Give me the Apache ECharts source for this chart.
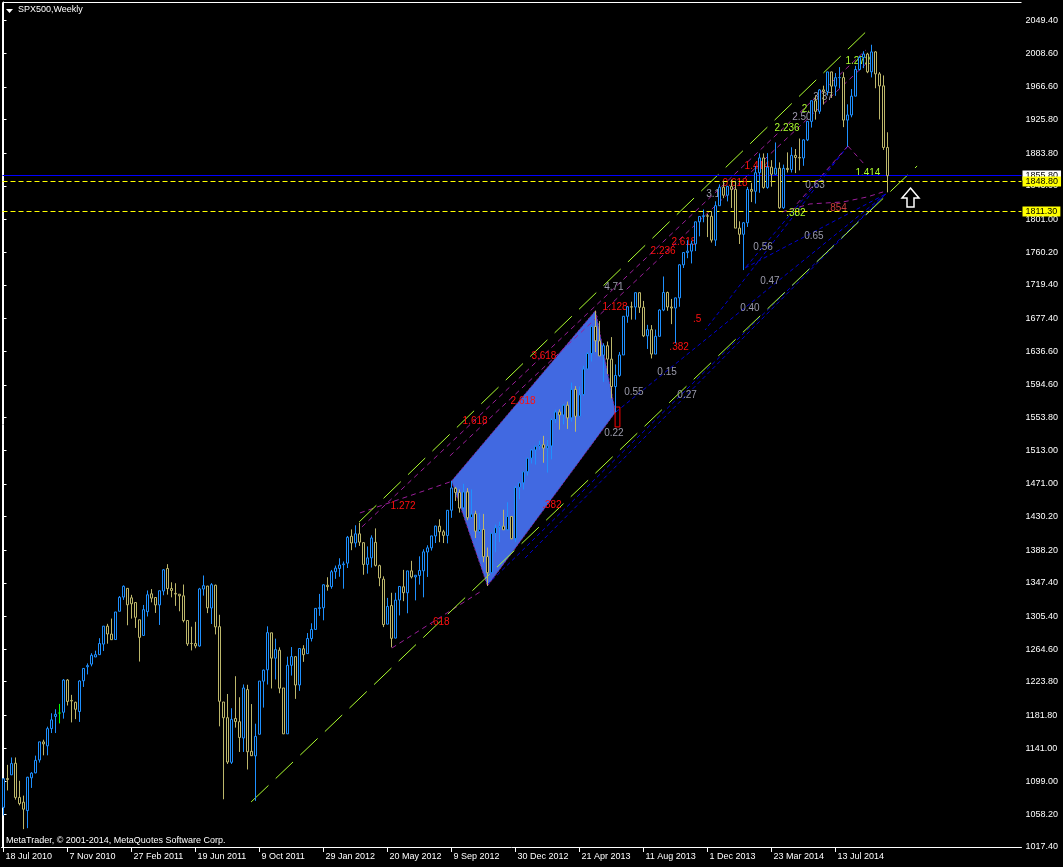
<!DOCTYPE html>
<html><head><meta charset="utf-8">
<script src="https://cdn.jsdelivr.net/npm/echarts@6/dist/echarts.min.js"></script>
<style>html,body{margin:0;padding:0;background:#000;}#c{width:1063px;height:867px;}</style>
</head><body><div id="c"></div>
<script>
const chartTitle = 'SPX500,Weekly';
const copyright = 'MetaTrader, \u00a9 2001-2014, MetaQuotes Software Corp.';
const barSlots = 255;
const xTickLabels = ['18 Jul 2010','7 Nov 2010','27 Feb 2011','19 Jun 2011','9 Oct 2011','29 Jan 2012','20 May 2012','9 Sep 2012','30 Dec 2012','21 Apr 2013','11 Aug 2013','1 Dec 2013','23 Mar 2014','13 Jul 2014'];
const yTickLabels = ['2049.40','2008.60','1966.60','1925.80','1883.80','1843.00','1801.00','1760.20','1719.40','1677.40','1636.60','1594.60','1553.80','1513.00','1471.00','1430.20','1388.20','1347.40','1305.40','1264.60','1223.80','1181.80','1141.00','1099.00','1058.20','1017.40'];

const open = [
1066.9,1102.9,1107.5,1122.0,1079.3,1073.4,1062.9,1103.8,1110.0,1126.1,
1148.6,1143.7,1165.3,1180.5,1184.7,1185.7,1226.0,1200.4,1198.1,1186.6,
1225.0,1242.5,1245.8,1254.7,
1257.6,1270.8,1293.2,1283.3,1276.5,1311.8,1329.5,1340.4,1328.6,1322.7,
1301.2,1281.6,1311.3,1333.6,1329.0,1319.7,1337.1,1365.2,1340.2,1334.1,
1333.1,1331.1,1300.3,1271.6,1271.5,1268.4,1339.6,1343.3,1315.9,1344.3,
1292.6,1198.5,1178.9,1123.2,1177.9,1173.9,1153.5,1214.0,1136.9,1131.2,
1158.2,1224.5,1238.7,1284.9,1253.2,1263.2,1216.0,1158.7,1244.3,1255.1,
1219.7,1265.0,
1258.9,1277.8,1289.1,1315.3,1316.2,1344.3,1342.6,1361.2,1365.2,1370.0,
1371.9,1405.5,1397.1,1408.5,1397.5,1370.3,1378.5,1397.9,1368.8,1351.9,
1295.7,1318.9,1278.3,1325.9,1342.4,1334.9,1362.3,1354.7,1356.5,1362.3,
1385.8,1391.0,1405.9,1418.1,1411.1,1406.5,1438.0,1465.4,1460.1,1440.9,
1460.9,1428.8,1433.7,1411.0,1414.0,1380.1,1359.9,1409.0,1416.3,1418.1,
1413.5,1430.2,
1402.4,1466.5,1472.1,1485.98,1502.96,1513.2,1517.9,1519.8,1515.6,1518.2,
1551.2,1560.7,1556.9,1569.2,1553.3,1588.9,1555.3,1582.3,1614.4,1633.7,
1667.5,1649.6,1631.7,1643.4,1626.7,1592.4,1606.3,1631.9,1680.2,1692.1,
1691.7,1709.7,1691.4,1655.8,1663.5,1633.0,1655.2,1688.0,1709.9,1691.8,
1690.5,1703.2,1744.5,1759.8,1761.6,1770.6,1798.2,1804.8,1805.8,1805.1,
1775.3,1818.3,
1841.4,1831.4,1842.4,1838.7,1790.3,1782.6,1797.0,1838.6,1836.3,1859.5,
1878.0,1841.1,1866.5,1857.6,1865.1,1815.7,1864.9,1863.4,1881.1,1878.5,
1877.9,1900.5,1923.6,1949.4,1936.2,1962.9,1961.0,1985.4,1967.6,1978.2,
1978.3,1925.2,1931.6,1955.1,1988.4,2003.4,2007.7,1985.5,2010.4,1982.9,
1968.0,1891.0
];
const high = [
1103.0,1120.0,1129.2,1129.2,1100.1,1081.6,1105.1,1110.9,1131.5,1148.9,
1151.4,1167.7,1184.4,1189.4,1196.1,1227.1,1227.1,1207.4,1198.9,1225.6,
1240.4,1246.7,1259.4,1262.6,
1278.2,1293.2,1296.1,1302.7,1311.0,1330.8,1344.1,1340.4,1332.3,1322.7,
1301.2,1319.7,1337.8,1339.5,1329.0,1337.5,1364.6,1370.6,1348.0,1346.8,
1333.1,1345.2,1300.4,1292.5,1298.6,1341.0,1356.5,1343.3,1347.0,1345.0,
1307.4,1198.5,1208.5,1190.7,1230.7,1204.4,1220.4,1220.0,1195.9,1171.4,
1224.6,1239.0,1293.0,1284.9,1277.6,1266.7,1216.0,1255.1,1267.1,1255.2,
1265.4,1269.4,
1284.6,1296.8,1315.5,1333.5,1345.3,1354.3,1363.4,1368.9,1378.0,1374.0,
1405.9,1414.0,1419.2,1422.4,1397.5,1392.8,1406.6,1415.3,1370.0,1355.4,
1328.5,1334.9,1334.9,1343.3,1363.5,1362.2,1374.8,1356.8,1380.4,1389.2,
1394.2,1405.9,1418.7,1426.7,1413.5,1438.0,1474.5,1467.1,1463.8,1470.96,
1465.6,1464.0,1437.3,1434.3,1433.4,1391.4,1409.2,1420.0,1423.7,1438.6,
1448.0,1430.2,
1467.9,1472.3,1485.98,1503.3,1514.4,1518.3,1524.7,1530.9,1525.8,1552.5,
1563.6,1564.0,1570.3,1573.7,1597.4,1593.0,1592.6,1618.5,1635.0,1667.5,
1687.2,1674.2,1646.5,1648.7,1654.2,1620.1,1635.5,1680.2,1693.1,1698.4,
1709.7,1709.7,1699.4,1669.5,1669.2,1663.6,1689.0,1729.9,1711.0,1701.9,
1703.4,1745.3,1759.8,1775.2,1774.5,1798.2,1804.8,1813.6,1808.0,1811.5,
1823.8,1844.9,
1849.4,1843.2,1850.8,1849.3,1798.8,1798.0,1841.7,1846.8,1867.9,1883.6,
1883.6,1883.97,1875.2,1897.3,1872.4,1869.6,1884.9,1891.3,1889.1,1902.2,
1901.3,1924.0,1949.4,1955.6,1963.9,1968.2,1985.6,1985.6,1983.9,1991.4,
1984.9,1944.9,1964.0,1993.0,2005.0,2011.2,2009.3,2019.3,2011.2,1985.2,
1981.0,1910.0
];
const low = [
1056.9,1088.0,1107.5,1076.6,1069.4,1039.7,1040.9,1091.2,1109.4,1122.8,
1131.9,1131.9,1159.7,1159.7,1171.7,1177.7,1194.1,1173.0,1177.1,1173.6,
1217.3,1232.9,1243.0,1254.7,
1257.6,1262.2,1271.3,1275.9,1276.5,1311.7,1326.0,1294.3,1302.6,1291.0,
1249.0,1281.6,1305.3,1322.9,1309.7,1294.7,1331.8,1332.6,1329.2,1318.5,
1311.8,1297.9,1268.5,1262.9,1265.6,1267.6,1331.3,1309.5,1295.9,1282.9,
1168.1,1077.0,1121.1,1121.1,1166.5,1136.1,1136.1,1114.2,1131.1,1075.0,
1158.2,1191.5,1220.3,1215.4,1226.6,1209.4,1158.7,1158.7,1231.5,1202.4,
1212.4,1248.6,
1258.9,1274.1,1289.1,1306.1,1300.5,1337.5,1340.0,1352.3,1354.9,1340.0,
1365.8,1388.1,1391.6,1393.4,1357.4,1358.8,1366.4,1367.7,1343.1,1292.0,
1295.7,1266.7,1277.9,1306.6,1324.4,1309.3,1352.8,1325.4,1345.1,1329.2,
1354.7,1387.6,1397.0,1398.0,1397.0,1396.6,1428.5,1449.6,1435.0,1439.0,
1425.5,1427.5,1403.3,1410.0,1373.0,1343.4,1359.9,1385.4,1398.1,1413.5,
1413.5,1401.6,
1398.1,1451.6,1463.8,1481.2,1496.3,1495.0,1513.6,1497.3,1485.0,1501.5,
1547.0,1538.6,1545.1,1539.5,1548.6,1536.0,1555.3,1581.3,1614.4,1623.7,
1635.5,1630.7,1598.2,1608.1,1577.7,1560.3,1604.6,1631.9,1672.1,1676.0,
1676.0,1684.4,1654.2,1639.4,1627.5,1633.0,1655.2,1686.6,1687.1,1670.4,
1646.5,1692.1,1740.5,1752.7,1746.2,1761.6,1780.0,1797.6,1779.1,1772.3,
1768.0,1818.3,
1827.7,1823.7,1815.5,1790.3,1770.5,1737.9,1791.8,1822.8,1820.9,1834.4,
1839.6,1839.5,1842.1,1857.6,1814.4,1814.4,1859.7,1859.8,1859.0,1862.4,
1868.1,1899.0,1915.9,1925.8,1933.0,1944.7,1955.9,1952.9,1955.5,1965.1,
1916.4,1892.0,1928.7,1955.1,1987.2,1990.1,1983.8,1978.5,1965.0,1926.0,
1888.0,1835.0
];
const close = [
1102.7,1101.6,1121.6,1079.3,1071.7,1064.6,1104.5,1109.6,1125.6,1148.7,
1146.2,1165.2,1176.2,1183.1,1184.7,1225.9,1199.2,1199.7,1189.4,1224.7,
1240.4,1243.9,1256.8,1257.6,
1271.5,1293.2,1283.4,1276.3,1310.9,1329.2,1343.0,1319.9,1321.2,1304.3,
1279.2,1313.8,1332.4,1328.2,1319.7,1337.4,1363.6,1340.2,1337.8,1333.3,
1331.1,1300.2,1271.0,1271.5,1268.5,1339.7,1343.8,1316.1,1345.0,1292.3,
1199.4,1178.8,1123.5,1176.8,1174.0,1154.2,1216.0,1136.4,1131.4,1155.5,
1224.6,1238.3,1285.1,1253.2,1263.9,1215.7,1158.7,1244.3,1255.2,1219.7,
1265.3,1257.6,
1277.8,1289.1,1315.4,1316.3,1344.9,1342.6,1361.2,1365.7,1369.6,1370.9,
1404.2,1397.1,1408.5,1398.1,1370.3,1378.5,1403.4,1369.1,1353.4,1295.2,
1317.8,1278.0,1325.7,1342.8,1335.0,1362.2,1354.7,1356.8,1362.7,1386.0,
1391.0,1405.9,1418.2,1411.1,1406.6,1437.9,1465.8,1460.2,1440.7,1460.9,
1428.6,1433.2,1411.9,1414.2,1379.9,1359.9,1409.2,1416.2,1418.1,1413.6,
1430.2,1402.4,
1466.5,1472.1,1485.98,1503.0,1513.2,1517.9,1519.8,1515.6,1518.2,1551.2,
1560.7,1556.9,1569.2,1553.3,1588.9,1555.3,1582.2,1614.4,1633.7,1667.5,
1649.6,1630.7,1643.4,1626.7,1592.4,1606.3,1631.9,1680.2,1692.1,1691.7,
1709.7,1691.4,1655.8,1663.5,1633.0,1655.2,1688.0,1709.9,1691.8,1690.5,
1703.2,1744.5,1759.8,1761.6,1770.6,1798.2,1804.8,1805.8,1805.1,1775.3,
1818.3,1841.4,
1831.4,1842.4,1838.7,1790.3,1782.6,1797.0,1838.6,1836.3,1859.5,1878.0,
1841.1,1866.5,1857.6,1865.1,1815.7,1864.9,1863.4,1881.1,1878.5,1877.9,
1900.5,1923.6,1949.4,1936.2,1962.9,1961.0,1985.4,1967.6,1978.2,1978.3,
1925.2,1931.6,1955.1,1988.4,2003.4,2007.7,1985.5,2010.4,1982.9,1967.9,
1891.0,1855.8
];

// horizontal price levels
const bidPrice = 1855.80;
const dashedLevels = [1848.80, 1811.30];

// drawn objects, in [bar index, price] space
const channelLines = [ [[61.9,1073.6],[228.4,1867.9]], [[88.9,1423.3],[216.6,2040.3]] ];
const purpleLines = [
  [[89.1,1434.6],[111.6,1473.3]],
  [[97.1,1265.9],[119.9,1338.4]],
  [[89.6,1417.1],[215.6,2012.8]],
  [[111.6,1505.8],[216.1,1997.8]],
  [[211.1,1892.9],[215.6,1867.9]],
  [[211.1,1892.9],[197.9,1818.0]],
  [[194.6,1810.5],[201.6,1820.5],[209.9,1823.0],[215.9,1829.2],[219.9,1835.5]]
];
const blueLines = [
  [[120.9,1344.6],[220.6,1833.0]],
  [[153.1,1560.7],[220.6,1833.0]],
  [[130.4,1378.4],[220.6,1833.0]],
  [[211.1,1892.9],[185.4,1740.5]],
  [[211.1,1892.9],[175.4,1663.1]],
  [[185.4,1740.5],[220.6,1833.0]]
];
const patternPolygon = [[112,1474.5],[148,1687.5],[153,1560.3],[121,1343.4]];
const markBox = [[152.9,1566.9],[154.1,1542.0]];
const arrowPoint = [226.75,1828.5];

const redLabels = [
  ['1.272',99.9,1443.3],['1.618',117.9,1549.5],['2.618',129.9,1574.4],['3.618',135.1,1630.6],
  ['1.128',152.9,1691.8],['2.236',164.9,1761.8],['2.618',170.1,1773.0],['.5',173.4,1676.8],
  ['.382',168.9,1641.9],['.382',137.1,1444.6],['.618',109.1,1298.4],['1.414',188.4,1867.9],
  ['0.618',182.9,1846.7]
];
const darkRedLabels = [['.854',208.4,1815.5]];
const grayLabels = [
  ['4.71',152.6,1716.8],['0.22',152.6,1534.5],['0.55',157.6,1585.7],['0.15',165.9,1610.7],
  ['0.27',170.9,1582.0],['0.40',186.6,1690.6],['0.47',191.6,1724.3],['0.56',189.9,1766.8],
  ['0.65',202.6,1780.5],['0.63',202.9,1844.2],['2.50',199.6,1929.1],['3.37',204.9,1954.1],
  ['3.1',177.4,1833.0]
];
const limeLabels = [
  ['1.272',213.6,1999.1],['2.',200.6,1939.1],['2.236',195.9,1915.4],['.382',198.1,1809.2],['1.414',216.1,1859.2]
];

const FONT = '"Liberation Sans", Arial, sans-serif';
const chart = echarts.init(document.getElementById('c'), null, {renderer:'canvas'});
const categories = Array.from({length: barSlots}, (_, k) => String(k));
const candleData = open.map((o, k) => [o, close[k], low[k], high[k]]);
const yTickValues = yTickLabels.map(Number);
const showTick = (idx) => idx % 16 === 0 && idx / 16 < xTickLabels.length;

function polySeries(list, color, dash, z) {
  return {
    type: 'custom', xAxisIndex: 1, yAxisIndex: 0, z: z, silent: true,
    data: list.map((_, k) => [k]),
    renderItem: (params, api) => {
      const pts = list[params.dataIndex].map(p => api.coord(p));
      return { type: 'polyline', shape: { points: pts },
        style: { stroke: color, lineWidth: 1, lineDash: dash, fill: null } };
    }
  };
}
function textSeries(list, color) {
  return {
    type: 'custom', xAxisIndex: 1, yAxisIndex: 0, z: 2, silent: true,
    data: list.map(d => [d[1], d[2]]),
    renderItem: (params, api) => {
      const pt = api.coord([api.value(0), api.value(1)]);
      return { type: 'text', x: pt[0], y: pt[1],
        style: { text: list[params.dataIndex][0], fill: color, font: '10px ' + FONT,
          align: 'center', verticalAlign: 'middle' } };
    }
  };
}

const levelValues = [bidPrice].concat(dashedLevels);
const levelStyle = (k) => k === 0
  ? { stroke: '#0000FF', dash: null, bg: '#FFFFFF' }
  : { stroke: '#FFFF00', dash: [5, 3], bg: '#FFFF00' };

const option = {
  backgroundColor: '#000',
  animation: false,
  grid: { left: 1.5, right: 41.5, top: 2, bottom: 20, show: false },
  xAxis: [{
    type: 'category', data: categories, boundaryGap: true,
    axisLine: { show: true, lineStyle: { color: '#fff' } },
    axisTick: { show: true, alignWithLabel: true, interval: showTick, length: 5, lineStyle: { color: '#fff' } },
    axisLabel: { show: true, interval: showTick, formatter: (v, idx) => xTickLabels[idx / 16] || '',
      color: '#fff', fontSize: 9, fontFamily: FONT, align: 'left', margin: 5, padding: [0, 0, 0, 2] },
    splitLine: { show: false }
  }, {
    type: 'value', min: -0.5, max: barSlots - 0.5, show: false
  }],
  yAxis: [{
    type: 'value', position: 'right', min: 1017.4, max: 2072.7, scale: true,
    axisLine: { show: true, lineStyle: { color: '#fff' } },
    axisTick: { show: true, length: 3, customValues: yTickValues, lineStyle: { color: '#fff' } },
    axisLabel: { show: true, customValues: yTickValues, formatter: v => Number(v).toFixed(2),
      color: '#fff', fontSize: 9, fontFamily: FONT, margin: 4 },
    splitLine: { show: false }
  }],
  graphic: [
    { type: 'polyline', shape: { points: [[2.5, 847], [2.5, 2.5], [1021.5, 2.5]] }, style: { stroke: '#fff', lineWidth: 1, fill: null } },
    { type: 'polygon', shape: { points: [[6, 9], [13, 9], [9.5, 13]] }, style: { fill: '#fff' } },
    { type: 'text', left: 18, top: 5, style: { text: chartTitle, fill: '#fff', font: '9px ' + FONT } },
    { type: 'text', left: 6, top: 836, style: { text: copyright, fill: '#fff', font: '9px ' + FONT } }
  ],
  series: [
    {
      type: 'custom', xAxisIndex: 1, yAxisIndex: 0, z: 1, silent: true, data: [[0]],
      renderItem: (params, api) => ({ type: 'polygon',
        shape: { points: patternPolygon.map(p => api.coord(p)) },
        style: { fill: '#4169E1', stroke: '#8B1A8B', lineWidth: 1, lineDash: [2, 2] } })
    },
    polySeries(blueLines, '#0000D0', [4, 3], 1),
    polySeries(purpleLines, '#9A1E9A', [5, 4], 1),
    polySeries(channelLines, '#ADFF2F', [24, 10], 1),
    {
      type: 'custom', xAxisIndex: 1, yAxisIndex: 0, z: 2, silent: true, data: [[0]],
      renderItem: (params, api) => {
        const a = api.coord(markBox[0]), b = api.coord(markBox[1]);
        return { type: 'rect', shape: { x: a[0], y: a[1], width: b[0] - a[0], height: b[1] - a[1] },
          style: { stroke: '#FF0000', fill: null, lineWidth: 1 } };
      }
    },
    {
      type: 'custom', xAxisIndex: 1, yAxisIndex: 0, z: 2, silent: true, data: [[0]],
      renderItem: (params, api) => {
        const c = api.coord(arrowPoint);
        const rel = [[0, -9.5], [8.5, 0.5], [3.5, 0.5], [3.5, 9.5], [-3.5, 9.5], [-3.5, 0.5], [-8.5, 0.5]];
        return { type: 'polygon', shape: { points: rel.map(r => [c[0] + r[0], c[1] + r[1]]) },
          style: { fill: '#000', stroke: '#fff', lineWidth: 1.5 } };
      }
    },
    textSeries(redLabels, '#FF1010'),
    textSeries(darkRedLabels, '#C83C3C'),
    textSeries(grayLabels, '#9A9AAA'),
    textSeries(limeLabels, '#ADFF2F'),
    {
      type: 'custom', xAxisIndex: 1, yAxisIndex: 0, z: 2, silent: true,
      data: levelValues.map(v => [v]),
      renderItem: (params, api) => {
        const v = api.value(0);
        const st = levelStyle(params.dataIndex);
        const left = api.coord([-0.5, v]);
        const right = api.coord([barSlots - 0.5, v]);
        const y = Math.floor(left[1]) + 0.5;
        return { type: 'group', children: [
          { type: 'line', shape: { x1: left[0] + 1, y1: y, x2: right[0], y2: y },
            style: { stroke: st.stroke, lineWidth: 1, lineDash: st.dash } },
          { type: 'text', x: right[0] + 1, y: y,
            style: { text: v.toFixed(2), fill: '#000', backgroundColor: st.bg, padding: [1, 3, 0, 3],
              font: '9px ' + FONT, align: 'left', verticalAlign: 'middle' } }
        ] };
      }
    },
    {
      type: 'candlestick', xAxisIndex: 0, yAxisIndex: 0, z: 5, barWidth: 2,
      data: candleData,
      itemStyle: { color: '#000', color0: '#000', borderColor: '#1E90FF', borderColor0: '#BDB76B',
        borderColorDoji: '#00FF00', borderWidth: 1 }
    }
  ]
};
chart.setOption(option);
</script></body></html>
